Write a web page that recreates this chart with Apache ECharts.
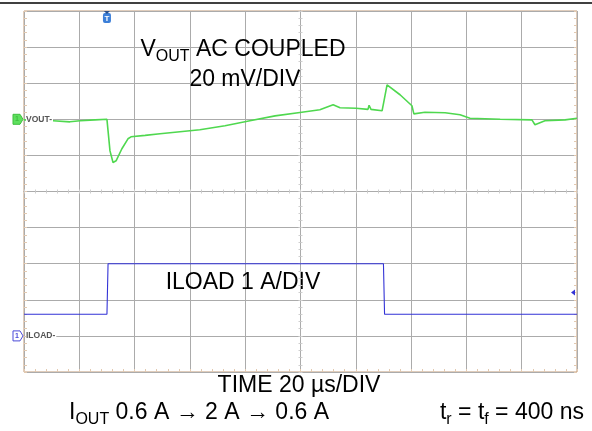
<!DOCTYPE html>
<html>
<head>
<meta charset="utf-8">
<script src="https://cdn.jsdelivr.net/npm/echarts@6/dist/echarts.min.js"></script>
<style>
  html, body { margin: 0; padding: 0; background: #fff; }
  #scope { width: 592px; height: 431px; }
</style>
</head>
<body>
<div id="scope"></div>
<script>
// VOUT trace: time in us, mV about the channel marker (20 mV/DIV, AC coupled)
var voutTime = [0, 5, 10.5, 16.6, 20.3, 25.7, 30, 30.4, 31.1, 32.2, 33.3, 35.4, 37.6, 38.7,
  43.8, 49.2, 56.4, 63.6, 72.7, 81.7, 90.8, 99.8, 107, 111.8, 114.3, 120.1, 124.4, 124.8,
  125.5, 129.5, 130.2, 131.3, 136, 140.3, 141, 145, 152.3, 157.7, 161.3, 172.2, 183.7,
  184.8, 188.4, 195.7, 200];
var voutMv = [-0.3, -0.6, -0.8, -1.4, -0.8, -0.3, 0, -6.4, -17.5, -23.9, -23, -16.3, -10.8, -9.7,
  -8.9, -8.0, -6.9, -5.8, -3.6, -0.8, 1.9, 3.8, 5.3, 8.0, 6.4, 6.1, 5.5, 7.8,
  5.5, 4.7, 10.2, 19.1, 13.6, 7.5, 3.0, 3.9, 3.6, 2.5, 0.6, 0, -0.3,
  -3.0, -0.8, -0.3, 0.6];

// ILOAD trace: time in us, amps (1 A/DIV)
var iloadTime = [0, 30, 30.4, 130, 130.4, 200];
var iloadAmp = [0.6, 0.6, 2.0, 2.0, 0.6, 0.6];

var trigTime = 30;     // trigger position, us
var trigLevel = 1.2;   // trigger level on ILOAD, A

function pairs(xs, ys) {
  var out = [];
  for (var i = 0; i < xs.length; i++) out.push([xs[i], ys[i]]);
  return out;
}

var gridColor = '#ababab';
var frameColor = '#c09a78';
var tickColor = '#cfcfcf';
var font = '"Liberation Sans", Arial, sans-serif';

var chart = echarts.init(document.getElementById('scope'));

// center crosshair axes (ticks on both sides of the line)
function centerX(inside) {
  return {
    type: 'value', min: -100, max: 100, interval: 20,
    axisLine: { show: true, onZero: true, onZeroAxisIndex: 2, lineStyle: { color: gridColor, width: 1 } },
    axisTick: { show: true, inside: inside, length: 2, lineStyle: { color: tickColor } },
    minorTick: { show: true, splitNumber: 5, length: 2, lineStyle: { color: tickColor } },
    axisLabel: { show: false }, splitLine: { show: false }
  };
}
function centerY(inside) {
  return {
    type: 'value', min: -5, max: 5, interval: 1,
    axisLine: { show: true, onZero: true, onZeroAxisIndex: 1, lineStyle: { color: gridColor, width: 1 } },
    axisTick: { show: true, inside: inside, length: 2, lineStyle: { color: tickColor } },
    minorTick: { show: true, splitNumber: 5, length: 2, lineStyle: { color: tickColor } },
    axisLabel: { show: false }, splitLine: { show: false }
  };
}

chart.setOption({
  animation: false,
  backgroundColor: '#fff',
  grid: {
    left: 24, top: 11, width: 553, height: 361,
    show: true, borderColor: frameColor, borderWidth: 1, backgroundColor: '#fff'
  },
  xAxis: [
    {
      type: 'value', min: 0, max: 200, interval: 20, position: 'bottom',
      axisLine: { show: false, onZero: false },
      axisTick: { show: true, inside: true, length: 3, lineStyle: { color: '#e2c9b0' } },
      minorTick: { show: true, splitNumber: 5, length: 3, lineStyle: { color: '#e2c9b0' } },
      axisLabel: { show: false },
      splitLine: { show: true, lineStyle: { color: gridColor, width: 1 } }
    },
    centerX(true),
    centerX(false)
  ],
  yAxis: [
    {
      type: 'value', min: -140, max: 60, interval: 20, position: 'left',
      axisLine: { show: false, onZero: false },
      axisTick: { show: true, inside: true, length: 3, lineStyle: { color: '#e2c9b0' } },
      minorTick: { show: true, splitNumber: 5, length: 3, lineStyle: { color: '#e2c9b0' } },
      axisLabel: { show: false },
      splitLine: { show: true, lineStyle: { color: gridColor, width: 1 } }
    },
    centerY(true),
    centerY(false),
    {
      type: 'value', min: -1, max: 9, interval: 1, position: 'right',
      axisLine: { show: false, onZero: false },
      axisTick: { show: true, inside: true, length: 3, lineStyle: { color: '#e2c9b0' } },
      minorTick: { show: true, splitNumber: 5, length: 3, lineStyle: { color: '#e2c9b0' } },
      axisLabel: { show: false },
      splitLine: { show: false }
    }
  ],
  series: [
    {
      name: 'VOUT', type: 'line', xAxisIndex: 0, yAxisIndex: 0,
      data: pairs(voutTime, voutMv),
      showSymbol: false, z: 5,
      lineStyle: { color: '#4fd84f', width: 1.6 }
    },
    {
      name: 'ILOAD', type: 'line', xAxisIndex: 0, yAxisIndex: 3,
      data: pairs(iloadTime, iloadAmp),
      showSymbol: false, z: 5,
      lineStyle: { color: '#3333d6', width: 1.1 }
    }
  ]
});

// channel / trigger markers placed through the axes
var vZero = chart.convertToPixel({ xAxisIndex: 0, yAxisIndex: 0 }, [0, 0]);
var iZero = chart.convertToPixel({ xAxisIndex: 0, yAxisIndex: 3 }, [0, 0]);
var trig = chart.convertToPixel({ xAxisIndex: 0, yAxisIndex: 3 }, [trigTime, trigLevel]);
var right = chart.convertToPixel({ xAxisIndex: 0, yAxisIndex: 3 }, [200, trigLevel]);

function tag(y, fill, stroke, label) {
  return [
    {
      type: 'polygon', z: 20,
      shape: { points: [[13, y - 5], [20, y - 5], [23, y], [20, y + 5], [13, y + 5]] },
      style: { fill: fill, stroke: stroke, lineWidth: 1 }
    },
    {
      type: 'text', z: 21, x: 17, y: y,
      style: { text: '1', font: 'bold 7px ' + font, fill: stroke, align: 'center', verticalAlign: 'middle' }
    },
    {
      type: 'text', z: 21, x: 26, y: y,
      style: {
        text: label + '-', font: 'bold 8.5px ' + font, fill: '#555',
        verticalAlign: 'middle', backgroundColor: '#fff', padding: [1, 1, 1, 0]
      }
    }
  ];
}

var textBig = 23, textSub = 16;
function rich(str, x, y, align) {
  return {
    type: 'text', x: x, y: y,
    style: {
      text: str, align: align, verticalAlign: 'middle',
      rich: {
        m: { fontSize: textBig, fontFamily: font, fill: '#000' },
        s: { fontSize: textSub, fontFamily: font, fill: '#000', padding: [14, 0, 0, 0] }
      }
    }
  };
}
function plain(str, x, y) {
  return {
    type: 'text', x: x, y: y,
    style: { text: str, font: textBig + 'px ' + font, fill: '#000', align: 'center', verticalAlign: 'middle' }
  };
}

chart.setOption({
  graphic: [].concat(
    tag(vZero[1], '#5ee05e', '#3fbf3f', 'VOUT'),
    tag(iZero[1], '#fff', '#4a4ad8', 'ILOAD'),
    [
      { type: 'line', z: 30, shape: { x1: 0, y1: 3, x2: 592, y2: 3 }, style: { stroke: '#000', lineWidth: 1.6 } },
      {
        type: 'rect', z: 20, shape: { x: trig[0] - 4, y: 13, width: 8, height: 10, r: 2 },
        style: { fill: '#3c7fd8' }
      },
      {
        type: 'polygon', z: 21, shape: { points: [[trig[0] - 3, 11], [trig[0] + 3, 11], [trig[0], 14]] },
        style: { fill: '#2a4f8a' }
      },
      {
        type: 'text', z: 22, x: trig[0], y: 18.5,
        style: { text: 'T', font: 'bold 8px ' + font, fill: '#fff', align: 'center', verticalAlign: 'middle' }
      },
      {
        type: 'polygon', z: 20,
        shape: { points: [[right[0] - 6, right[1]], [right[0] - 2, right[1] - 3], [right[0] - 2, right[1] + 3]] },
        style: { fill: '#3333d6' }
      },
      rich('{m|V}{s|OUT}{m| AC COUPLED}', 243, 50, 'center'),
      plain('20 mV/DIV', 245, 80),
      plain('ILOAD 1 A/DIV', 243, 283),
      plain('TIME 20 \u00b5s/DIV', 299, 386),
      rich('{m|I}{s|OUT}{m| 0.6 A \u2192 2 A \u2192 0.6 A}', 69, 413, 'left'),
      rich('{m|t}{s|r}{m| = t}{s|f}{m| = 400 ns}', 584, 413, 'right')
    ]
  )
});
</script>
</body>
</html>
